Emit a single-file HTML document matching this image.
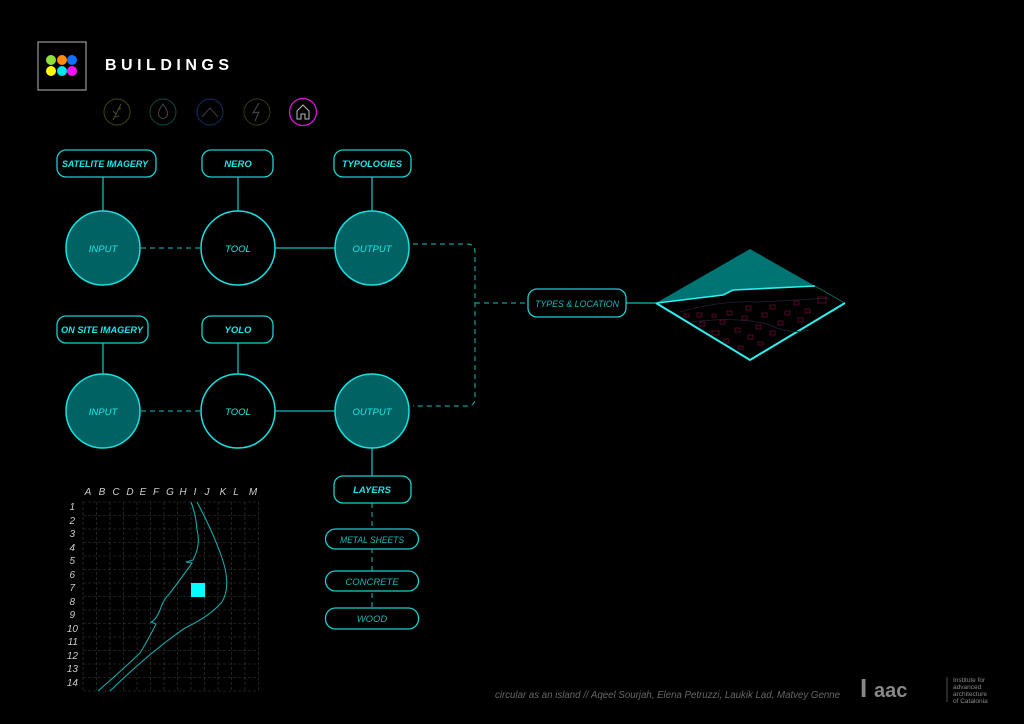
<!DOCTYPE html>
<html><head><meta charset="utf-8"><style>
html,body{margin:0;padding:0;background:#000;}
svg{display:block}
text{font-family:"Liberation Sans","DejaVu Sans",sans-serif;}
.i{font-style:italic;}
</style></head><body>
<svg width="1024" height="724" viewBox="0 0 1024 724" xmlns="http://www.w3.org/2000/svg">
<rect width="1024" height="724" fill="#000"/>
<rect x="38" y="42" width="48" height="48" fill="none" stroke="#9a9a9a" stroke-width="1.2"/>
<circle cx="51" cy="60" r="5" fill="#8ee03a"/><circle cx="62" cy="60" r="5" fill="#ff8a10"/><circle cx="72" cy="60" r="5" fill="#1070ff"/>
<circle cx="51" cy="71" r="5" fill="#ffff00"/><circle cx="62" cy="71" r="5" fill="#00e5e5"/><circle cx="72" cy="71" r="5" fill="#ff10ff"/>
<text x="105" y="70" font-weight="bold" font-size="16" fill="#fff" textLength="124" lengthAdjust="spacing">BUILDINGS</text>
<g fill="none" stroke-width="1">
<circle cx="117" cy="112" r="13" stroke="#3a4a10"/>
<path d="M113 120 L121 104 M116 114 l-3 -3 M118 110 l3 -2 M115 117 l4 -1" stroke="#4a4a3a"/>
<circle cx="163" cy="112" r="13" stroke="#0d4a44"/>
<path d="M163 104 Q157 112 159 116 Q163 121 167 116 Q169 112 163 104Z" stroke="#4a4a4a"/>
<circle cx="210" cy="112" r="13" stroke="#10306a"/>
<path d="M202 117 L210 108 L218 117" stroke="#3a3a4a"/>
<circle cx="257" cy="112" r="13" stroke="#3a3a10"/>
<path d="M259 103 L253 113 L259 112 L255 121" stroke="#4a4a4a"/>
<circle cx="303" cy="112" r="13.5" stroke="#e010e0" stroke-width="1.3"/>
<path d="M297 119 V111 L303 105 L309 111 V119 H305 V114 H301 V119Z" stroke="#bbb"/>
</g>
<g stroke="#1ab8b8" stroke-width="1.3" fill="none">
<line x1="103" y1="176" x2="103" y2="211"/>
<line x1="238" y1="176" x2="238" y2="211"/>
<line x1="372" y1="177" x2="372" y2="211"/>
<line x1="275" y1="248" x2="335" y2="248"/>
<line x1="103" y1="343" x2="103" y2="374"/>
<line x1="238" y1="343" x2="238" y2="374"/>
<line x1="275" y1="411" x2="335" y2="411"/>
<line x1="372" y1="448" x2="372" y2="476"/>
<line x1="626" y1="303" x2="656" y2="303"/>
</g>
<g stroke="#159a9a" stroke-width="1.2" fill="none" stroke-dasharray="5,4">
<line x1="141" y1="248" x2="201" y2="248"/>
<line x1="141" y1="411" x2="201" y2="411"/>
<path d="M413 244 H467 Q475 244 475 252 V398 Q475 406 467 406 H413"/>
<line x1="475" y1="303" x2="528" y2="303"/>
<line x1="372" y1="503" x2="372" y2="608"/>
</g>
<g fill="#000" stroke="#1ad0d0" stroke-width="1.3">
<rect x="57" y="150" width="99" height="27" rx="9"/>
<rect x="202" y="150" width="71" height="27" rx="9"/>
<rect x="334" y="150" width="77" height="27" rx="9"/>
<rect x="57" y="316" width="91" height="27" rx="9"/>
<rect x="202" y="316" width="71" height="27" rx="9"/>
<rect x="528" y="289" width="98" height="28" rx="9"/>
<rect x="334" y="476" width="77" height="27" rx="9"/>
<rect x="325.5" y="529" width="93" height="20" rx="10"/>
<rect x="325.5" y="571" width="93" height="20" rx="10"/>
<rect x="325.5" y="608" width="93" height="21" rx="10"/>
</g>
<g stroke="#1ae0e0" stroke-width="1.5">
<circle cx="103" cy="248" r="37" fill="#006262"/>
<circle cx="238" cy="248" r="37" fill="#000"/>
<circle cx="372" cy="248" r="37" fill="#006262"/>
<circle cx="103" cy="411" r="37" fill="#006262"/>
<circle cx="238" cy="411" r="37" fill="#000"/>
<circle cx="372" cy="411" r="37" fill="#006262"/>
</g>
<g class="i" fill="#1ee8e8" font-size="9.5" text-anchor="middle">
<text x="105" y="167" font-weight="bold" textLength="86" lengthAdjust="spacingAndGlyphs">SATELITE IMAGERY</text>
<text x="238" y="167" font-weight="bold">NERO</text>
<text x="372" y="167" font-weight="bold" textLength="60" lengthAdjust="spacingAndGlyphs">TYPOLOGIES</text>
<text x="102" y="333" font-weight="bold" textLength="82" lengthAdjust="spacingAndGlyphs">ON SITE IMAGERY</text>
<text x="238" y="333" font-weight="bold">YOLO</text>
<text x="372" y="493" font-weight="bold">LAYERS</text>
<text x="103" y="252">INPUT</text>
<text x="238" y="252">TOOL</text>
<text x="372" y="252">OUTPUT</text>
<text x="103" y="415">INPUT</text>
<text x="238" y="415">TOOL</text>
<text x="372" y="415">OUTPUT</text>
</g>
<g class="i" fill="#17b8b8" font-size="9.5" text-anchor="middle">
<text x="577" y="307" textLength="84" lengthAdjust="spacingAndGlyphs">TYPES &amp; LOCATION</text>
<text x="372" y="543" textLength="64" lengthAdjust="spacingAndGlyphs">METAL SHEETS</text>
<text x="372" y="585">CONCRETE</text>
<text x="372" y="622">WOOD</text>
</g>
<path d="M656 303 L750 249 L815 286 L733 290 L723 295 Z" fill="#007373"/>
<path d="M815 286 L845 303" stroke="#0a6a6a" stroke-width="1"/>
<path d="M657 303 L723 295 L733 290 L815 286" stroke="#2ff0f0" stroke-width="1.6" fill="none"/>
<path d="M656 303 L750 360 L845 303" stroke="#2ff0f0" stroke-width="2" fill="none"/>
<path d="M680 312 Q720 300 760 302 L830 298" stroke="#223" stroke-width="0.8" fill="none"/>
<path d="M690 322 Q740 316 770 325 Q790 335 810 330" stroke="#223" stroke-width="0.8" fill="none"/>
<g fill="none" stroke="#6a0a35" stroke-width="0.8">
<rect x="684" y="314" width="5" height="3"/><rect x="697" y="313" width="5" height="4"/><rect x="712" y="314" width="4" height="3"/>
<rect x="727" y="311" width="5" height="4"/><rect x="746" y="306" width="5" height="4"/><rect x="770" y="305" width="5" height="4"/>
<rect x="794" y="301" width="5" height="4"/><rect x="818" y="297" width="8" height="6"/>
<rect x="700" y="322" width="5" height="4"/><rect x="720" y="320" width="5" height="4"/><rect x="742" y="316" width="5" height="4"/>
<rect x="762" y="313" width="5" height="4"/><rect x="785" y="311" width="5" height="4"/><rect x="805" y="309" width="5" height="4"/>
<rect x="712" y="331" width="7" height="4"/><rect x="735" y="328" width="5" height="4"/><rect x="756" y="325" width="5" height="4"/>
<rect x="778" y="321" width="5" height="4"/><rect x="798" y="318" width="5" height="4"/>
<rect x="724" y="339" width="5" height="4"/><rect x="748" y="335" width="5" height="4"/><rect x="770" y="331" width="5" height="4"/>
<rect x="738" y="346" width="5" height="3"/><rect x="758" y="342" width="5" height="3"/>
</g>
<g stroke="#3a3a3a" stroke-width="0.6" stroke-dasharray="3,2" fill="none">
<path d="M83 502V691M96.5 502V691M110 502V691M123.5 502V691M137 502V691M150.5 502V691M164 502V691M177.5 502V691M191 502V691M204.5 502V691M218 502V691M231.5 502V691M245 502V691M258.5 502V691"/>
<path d="M83 502H258.5M83 515.5H258.5M83 529H258.5M83 542.5H258.5M83 556H258.5M83 569.5H258.5M83 583H258.5M83 596.5H258.5M83 610H258.5M83 623.5H258.5M83 637H258.5M83 650.5H258.5M83 664H258.5M83 677.5H258.5M83 691H258.5"/>
</g>
<path d="M197 502 Q212 530 221 555 Q232 585 222 602 Q210 616 185 628 Q150 652 110 691" stroke="#14a8a8" stroke-width="1.1" fill="none"/>
<path d="M191 502 Q196 515 197 530 Q201 545 193 560 L186 562 L192 563 Q180 580 170 593 Q163 600 160 610 Q156 620 151 622 L156 624 Q148 640 140 653 Q120 672 98 691" stroke="#14a8a8" stroke-width="1.1" fill="none"/>
<rect x="191" y="583" width="14" height="14" fill="#00ffff"/>
<g class="i" fill="#ccc" font-size="10" text-anchor="middle">
<text x="88" y="495">A</text><text x="102" y="495">B</text><text x="116" y="495">C</text><text x="130" y="495">D</text><text x="143" y="495">E</text><text x="156" y="495">F</text><text x="170" y="495">G</text><text x="183" y="495">H</text><text x="195" y="495">I</text><text x="207" y="495">J</text><text x="223" y="495">K</text><text x="236" y="495">L</text><text x="253" y="495">M</text>
</g>
<g class="i" fill="#ccc" font-size="10" text-anchor="end">
<text x="75" y="510">1</text><text x="75" y="524">2</text><text x="75" y="537">3</text><text x="75" y="551">4</text><text x="75" y="564">5</text><text x="75" y="578">6</text><text x="75" y="591">7</text><text x="75" y="605">8</text><text x="75" y="618">9</text><text x="78" y="632">10</text><text x="78" y="645">11</text><text x="78" y="659">12</text><text x="78" y="672">13</text><text x="78" y="686">14</text>
</g>
<text class="i" x="495" y="698" font-size="10" fill="#666" textLength="345" lengthAdjust="spacingAndGlyphs">circular as an island // Aqeel Sourjah, Elena Petruzzi, Laukik Lad, Matvey Genne</text>
<text x="860" y="697" font-family="Liberation Serif,serif" font-weight="bold" font-size="26" fill="#888">I</text>
<text x="874" y="697" font-family="Liberation Serif,serif" font-weight="bold" font-size="20" fill="#888">aac</text>
<line x1="947" y1="677" x2="947" y2="702" stroke="#666" stroke-width="0.8"/>
<g font-size="6.5" fill="#888">
<text x="953" y="682">Institute for</text><text x="953" y="689">advanced</text><text x="953" y="696">architecture</text><text x="953" y="703">of Catalonia</text>
</g>
</svg>
</body></html>
